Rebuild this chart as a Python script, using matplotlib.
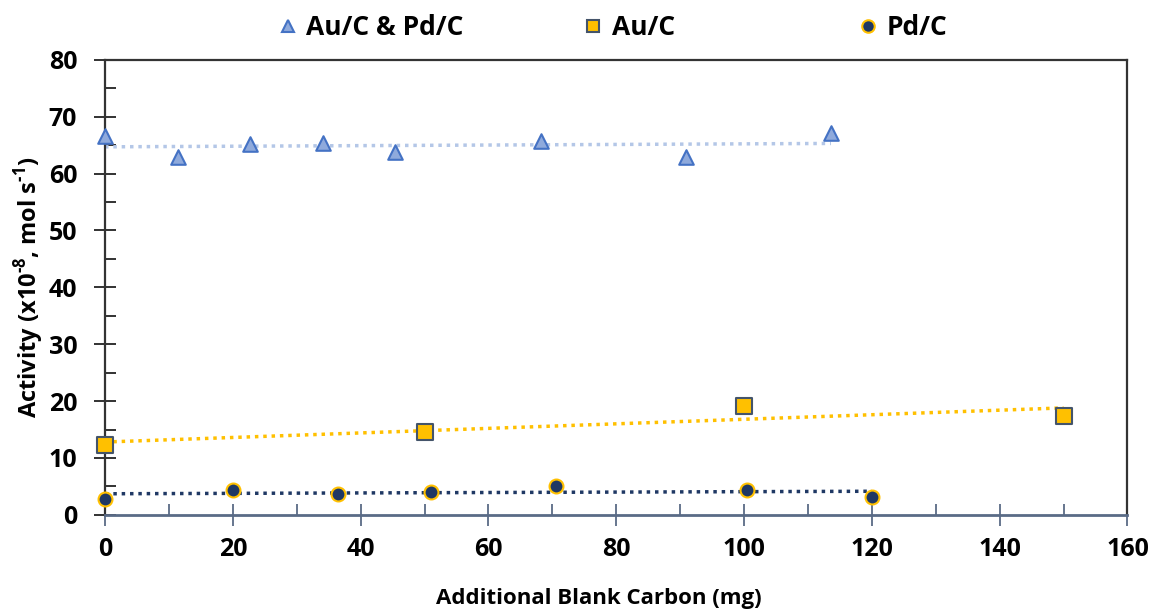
import numpy as np
import matplotlib.pyplot as plt
from matplotlib.lines import Line2D
from matplotlib.ticker import MultipleLocator

plt.rcParams['font.family'] = ['Open Sans', 'DejaVu Sans']
plt.rcParams['font.weight'] = 'bold'
plt.rcParams['mathtext.fontset'] = 'custom'
plt.rcParams['mathtext.rm'] = 'Open Sans:bold'

# Data
x_aupd = [0, 11.4, 22.7, 34.1, 45.4, 68.2, 90.9, 113.6]
y_aupd = [66.6, 62.9, 65.2, 65.3, 63.8, 65.8, 62.9, 67.1]

x_au = [0, 50, 100, 150]
y_au = [12.2, 14.5, 19.2, 17.3]

x_pd = [0, 20, 36.5, 51, 70.6, 100.4, 120]
y_pd = [2.7, 4.4, 3.7, 4.1, 5.0, 4.3, 3.2]

labels = ['Au/C & Pd/C', 'Au/C', 'Pd/C']

fig = plt.figure(figsize=(11.54, 6.10), dpi=100)
ax = fig.add_axes([0.091, 0.156, 0.886, 0.746])

# linear trend lines
for xs, ys, c in [(x_aupd, y_aupd, '#B4C7E7'), (x_au, y_au, '#FFC000'), (x_pd, y_pd, '#1F3864')]:
    k, b = np.polyfit(xs, ys, 1)
    xx = np.array([min(xs), max(xs)])
    ax.plot(xx, k * xx + b, linestyle=(0, (1, 1.4)), color=c, linewidth=2.5, zorder=2)

styles = [
    dict(marker='^', facecolor='#8FAADC', edgecolor='#4472C4', s=110),
    dict(marker='s', facecolor='#FFC000', edgecolor='#44546A', s=120),
    dict(marker='o', facecolor='#1F3864', edgecolor='#FFC000', s=100),
]
for xs, ys, st in zip([x_aupd, x_au, x_pd], [y_aupd, y_au, y_pd], styles):
    ax.scatter(xs, ys, marker=st['marker'], s=st['s'], facecolor=st['facecolor'],
               edgecolor=st['edgecolor'], linewidth=1.5, zorder=3, clip_on=False)

ax.set_xlim(0, 160)
ax.set_ylim(0, 80)
ax.xaxis.set_major_locator(MultipleLocator(20))
ax.xaxis.set_minor_locator(MultipleLocator(10))
ax.yaxis.set_major_locator(MultipleLocator(10))
ax.yaxis.set_minor_locator(MultipleLocator(5))

ax.tick_params(which='major', direction='inout', length=16, width=1.3, labelsize=18)
ax.tick_params(axis='y', which='major', pad=12)
ax.tick_params(axis='x', which='major', pad=8)
ax.tick_params(which='minor', direction='in', length=8, width=1.3)
ax.tick_params(axis='x', which='both', color='#5A6B86')
ax.tick_params(axis='y', which='both', color='#222222')

for side in ['top', 'right', 'left']:
    ax.spines[side].set_color('#333333')
    ax.spines[side].set_linewidth(1.6)
ax.spines['bottom'].set_color('#5A6B86')
ax.spines['bottom'].set_linewidth(2)

for lab in ax.get_xticklabels() + ax.get_yticklabels():
    lab.set_fontweight('bold')

ax.set_xlabel('Additional Blank Carbon (mg)', fontsize=16, fontweight='bold')
ax.xaxis.set_label_coords(0.483, -0.16)
ax.set_ylabel('Activity (x10$^{\\text{-8}}$, mol s$^{\\text{-1}}$)', fontsize=17,
              fontweight='bold')
ax.yaxis.set_label_coords(-0.058, 0.5)

# legend entries spread along the top, one per series
legend_x = [0.240, 0.505, 0.743]
for lab, st, lx in zip(labels, styles, legend_x):
    h = Line2D([], [], linestyle='none', marker=st['marker'], markersize=9,
               markerfacecolor=st['facecolor'], markeredgecolor=st['edgecolor'],
               markeredgewidth=1.5)
    fig.legend([h], [lab], loc='center left', bbox_to_anchor=(lx, 0.955), frameon=False,
               fontsize=19, handlelength=0.8, handletextpad=0.3, borderpad=0,
               borderaxespad=0)

fig.savefig('out.png', dpi=100)
